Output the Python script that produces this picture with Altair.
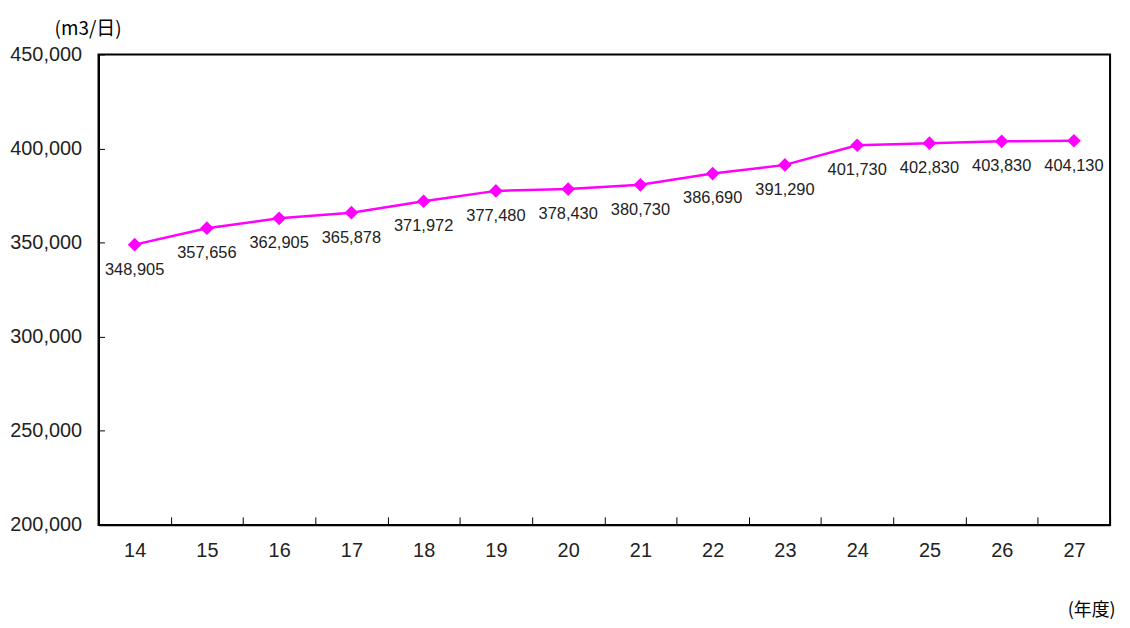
import altair as alt
import pandas as pd

years = ["14", "15", "16", "17", "18", "19", "20", "21", "22", "23", "24", "25", "26", "27"]
values = [348905, 357656, 362905, 365878, 371972, 377480, 378430, 380730,
          386690, 391290, 401730, 402830, 403830, 404130]
y_ticks = [200000, 250000, 300000, 350000, 400000, 450000]

df = pd.DataFrame({"year": years, "value": values})
df["label"] = [f"{v:,}" for v in values]

FONT = "Liberation Sans, Arial, sans-serif"
CJK = "Noto Sans CJK JP"

x = alt.X("year:N", sort=years, scale=alt.Scale(paddingInner=0, paddingOuter=0),
          axis=alt.Axis(title="(年度)", titleFont=CJK, titleFontSize=18, titleFontWeight="normal",
                        titleColor="#000", titleAngle=0, titleX=998, titleY=86,
                        titleAlign="center", titleBaseline="middle",
                        labelAngle=0, labelFont=FONT, labelFontSize=20, labelColor="#222",
                        tickBand="extent", tickSize={"expr": "-8"}, tickColor="#000", tickWidth=1,
                        labelPadding=24, domainColor="#000", domainWidth=2))
y = alt.Y("value:Q", scale=alt.Scale(domain=[200000, 450000], nice=False, zero=False),
          axis=alt.Axis(values=y_ticks, format=",.0f", title="(m3/日)", titleFont=CJK,
                        titleFontSize=19, titleFontWeight="normal", titleColor="#000",
                        titleAngle=0, titleX=-11, titleY=-26, titleAlign="center",
                        titleBaseline="middle", labelFont=FONT, labelFontSize=20,
                        labelColor="#222", tickSize={"expr": "-6"}, tickColor="#000",
                        tickWidth=1, labelPadding=23, domainColor="#000", domainWidth=2,
                        grid=False))

base = alt.Chart(df)
line = base.mark_line(color="#FF00FF", strokeWidth=2.5).encode(x=x, y=y)
pts = base.mark_point(shape="diamond", filled=True, size=190, color="#FF00FF", opacity=1).encode(x=x, y=y)
labels = base.mark_text(dy=25, baseline="middle", align="center", font=FONT, fontSize=16.5,
                        color="#222").encode(x=x, y=y, text="label:N")

chart = alt.layer(line, pts, labels).properties(
    width=1017, height=473,
    autosize=alt.AutoSizeParams(type="none"),
    padding={"left": 91, "top": 45, "right": 12, "bottom": 100},
    background="white",
).configure_view(stroke="#000", strokeWidth=2)

chart.save("out.html", embed_options={"renderer": "svg", "actions": False})
